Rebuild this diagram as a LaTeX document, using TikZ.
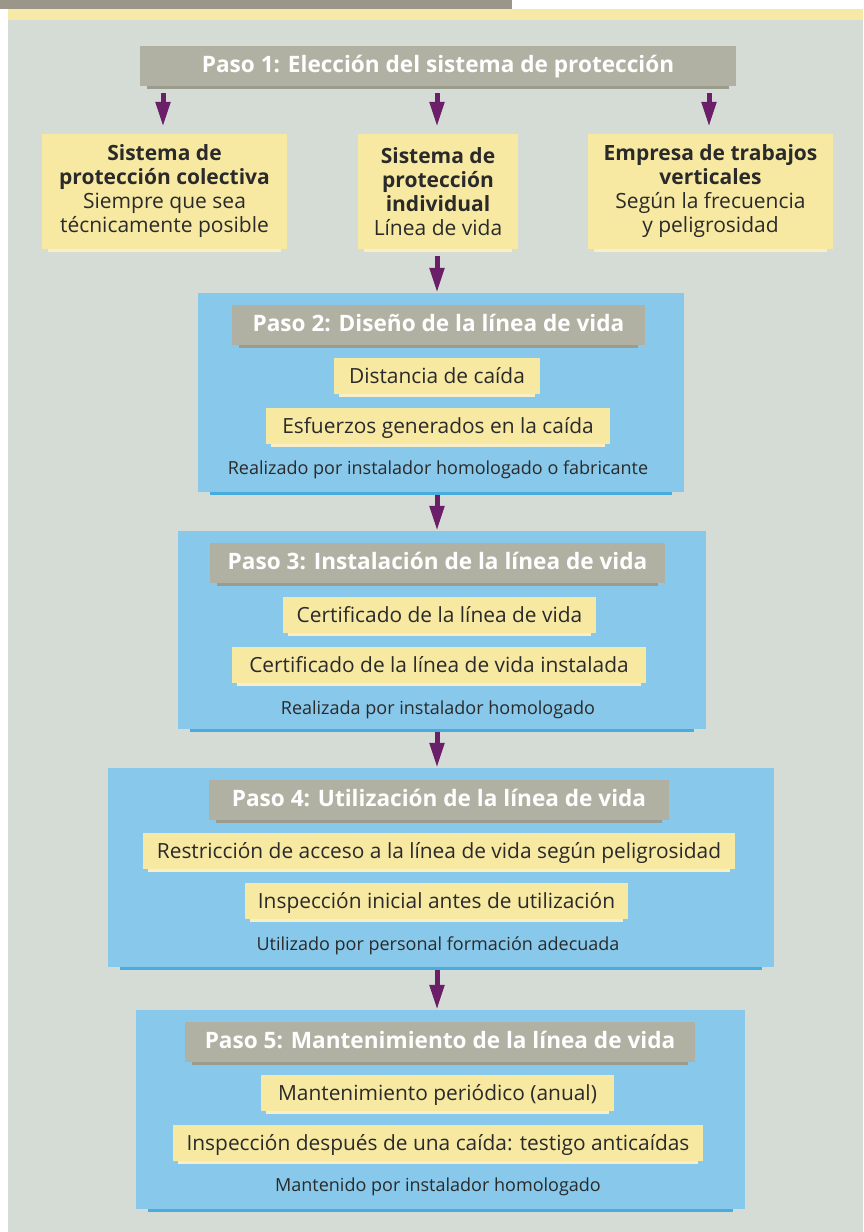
\documentclass[tikz,border=0pt]{standalone}
\usepackage{fontspec}
\setmainfont{Open Sans}
\usetikzlibrary{arrows.meta}

\definecolor{bgGrey}{HTML}{D5DCD5}
\definecolor{bandDark}{HTML}{9A978A}
\definecolor{bandYellow}{HTML}{F6E8A6}
\definecolor{headGrey}{HTML}{B1B1A3}
\definecolor{headShade}{HTML}{9B9B8E}
\definecolor{noteYellow}{HTML}{F7E9A2}
\definecolor{noteShade}{HTML}{F8EFC8}
\definecolor{stepBlue}{HTML}{88C8EA}
\definecolor{stepShade}{HTML}{48ADDE}
\definecolor{arrowPurple}{HTML}{6A1F68}
\definecolor{inkDark}{HTML}{2A2A2A}

% thin band under a box: node, colour, inset
\newcommand{\boxshade}[3]{%
  \fill [#2] ([xshift=#3]#1.south west) rectangle ([xshift=-#3,yshift=-3pt]#1.south east);
}

\begin{document}
\begin{tikzpicture}
[
 x=1pt, y=-1pt,
 inner sep=0pt,
 BLUEBOX/.style={rectangle, fill=stepBlue},
 GREYHEAD/.style={rectangle, fill=headGrey, text=white, font=\fontsize{22.6}{26}\selectfont\bfseries,
                  minimum height=40pt, text height=17pt, text depth=4pt},
 YELLOWBOX/.style={rectangle, fill=noteYellow, text=inkDark, font=\fontsize{20.9}{24}\selectfont,
                  minimum height=36pt, text height=17pt, text depth=3pt},
 TOPBOX/.style={rectangle, fill=noteYellow, text=inkDark, font=\fontsize{21}{24}\selectfont,
                  align=center, minimum width=245pt, minimum height=115pt},
 NOTE/.style={text=inkDark, font=\fontsize{18}{21}\selectfont, text height=14.6pt, text depth=0pt},
 DOWN/.style={draw=arrowPurple, line width=5pt, -{Triangle[width=14pt,length=25pt]}},
]
%
\useasboundingbox (0,0) rectangle (863,1232);
\fill [bandDark]   (0,0) rectangle (512,9);
\fill [bandYellow] (8,9) rectangle (863,20);
\fill [bgGrey]     (8,20) rectangle (863,1232);
%
% Paso 1
\node [GREYHEAD, minimum width=596pt] (P1) at (438,66) {Paso 1: Elección del sistema de protección};
\boxshade{P1}{headShade}{7pt}
%
\node [TOPBOX]                    (T1) at (164.5,191.5) {\textbf{Sistema de}\\\textbf{protección colectiva}\\Siempre que sea\\técnicamente posible};
\node [TOPBOX, minimum width=160pt] (T2) at (438,191.5)   {\textbf{Sistema de}\\\textbf{protección}\\\textbf{individual}\\Línea de vida};
\node [TOPBOX]                    (T3) at (710.5,191.5) {\textbf{Empresa de trabajos}\\\textbf{verticales}\\Según la frecuencia\\y peligrosidad};
\boxshade{T1}{noteShade}{6pt}
\boxshade{T2}{noteShade}{6pt}
\boxshade{T3}{noteShade}{6pt}
%
\draw [DOWN]  ([yshift=-7pt]P1.south -| 163,0) -- ([yshift=7pt]T1.north -| 163,0);
\draw [DOWN]  ([yshift=-7pt]P1.south -| 437,0) -- ([yshift=7pt]T2.north -| 437,0);
\draw [DOWN]  ([yshift=-7pt]P1.south -| 709,0) -- ([yshift=7pt]T3.north -| 709,0);
%
% Paso 2
\node [BLUEBOX, minimum width=486pt, minimum height=199pt] (S2) at (441,392.5) {};
\boxshade{S2}{stepShade}{12pt}
\node [GREYHEAD, minimum width=413pt] (H2) at (438.5,325) {Paso 2: Diseño de la línea de vida};
\boxshade{H2}{headShade}{7pt}
\node [YELLOWBOX, minimum width=206pt] (A2) at (437,376) {Distancia de caída};
\boxshade{A2}{noteShade}{5pt}
\node [YELLOWBOX, minimum width=344pt] (B2) at (438,426) {Esfuerzos generados en la caída};
\boxshade{B2}{noteShade}{5pt}
\node [NOTE] (N2) at (438,467) {Realizado por instalador homologado o fabricante};
%
% Paso 3
\node [BLUEBOX, minimum width=528pt, minimum height=198pt] (S3) at (442,630) {};
\boxshade{S3}{stepShade}{12pt}
\node [GREYHEAD, minimum width=455pt] (H3) at (437.5,563) {Paso 3: Instalación de la línea de vida};
\boxshade{H3}{headShade}{7pt}
\node [YELLOWBOX, minimum width=313pt] (A3) at (439.5,615) {Certificado de la línea de vida};
\boxshade{A3}{noteShade}{5pt}
\node [YELLOWBOX, minimum width=414pt] (B3) at (439,665) {Certificado de la línea de vida instalada};
\boxshade{B3}{noteShade}{5pt}
\node [NOTE] (N3) at (438,707) {Realizada por instalador homologado};
%
% Paso 4
\node [BLUEBOX, minimum width=666pt, minimum height=199pt] (S4) at (441,867.5) {};
\boxshade{S4}{stepShade}{12pt}
\node [GREYHEAD, minimum width=460pt] (H4) at (439,799.5) {Paso 4: Utilización de la línea de vida};
\boxshade{H4}{headShade}{7pt}
\node [YELLOWBOX, minimum width=592pt] (A4) at (439,851) {Restricción de acceso a la línea de vida según peligrosidad};
\boxshade{A4}{noteShade}{5pt}
\node [YELLOWBOX, minimum width=383pt] (B4) at (436.5,901) {Inspección inicial antes de utilización};
\boxshade{B4}{noteShade}{5pt}
\node [NOTE] (N4) at (438,943) {Utilizado por personal formación adecuada};
%
% Paso 5
\node [BLUEBOX, minimum width=609pt, minimum height=199pt] (S5) at (440.5,1109.5) {};
\boxshade{S5}{stepShade}{12pt}
\node [GREYHEAD, minimum width=510pt] (H5) at (440,1041.5) {Paso 5: Mantenimiento de la línea de vida};
\boxshade{H5}{headShade}{7pt}
\node [YELLOWBOX, minimum width=353pt] (A5) at (437.5,1093) {Mantenimiento periódico (anual)};
\boxshade{A5}{noteShade}{5pt}
\node [YELLOWBOX, minimum width=530pt] (B5) at (438,1143) {Inspección después de una caída: testigo anticaídas};
\boxshade{B5}{noteShade}{5pt}
\node [NOTE] (N5) at (438,1184) {Mantenido por instalador homologado};
%
\draw [DOWN]  ([yshift=-7pt]T2.south -| 437,0) -- (S2.north -| 437,0);
\draw [DOWN]  ([yshift=-3pt]S2.south -| 437,0) -- (S3.north -| 437,0);
\draw [DOWN]  ([yshift=-3pt]S3.south -| 437,0) -- (S4.north -| 437,0);
\draw [DOWN]  ([yshift=-3pt]S4.south -| 437,0) -- (S5.north -| 437,0);
%
\end{tikzpicture}
\end{document}
